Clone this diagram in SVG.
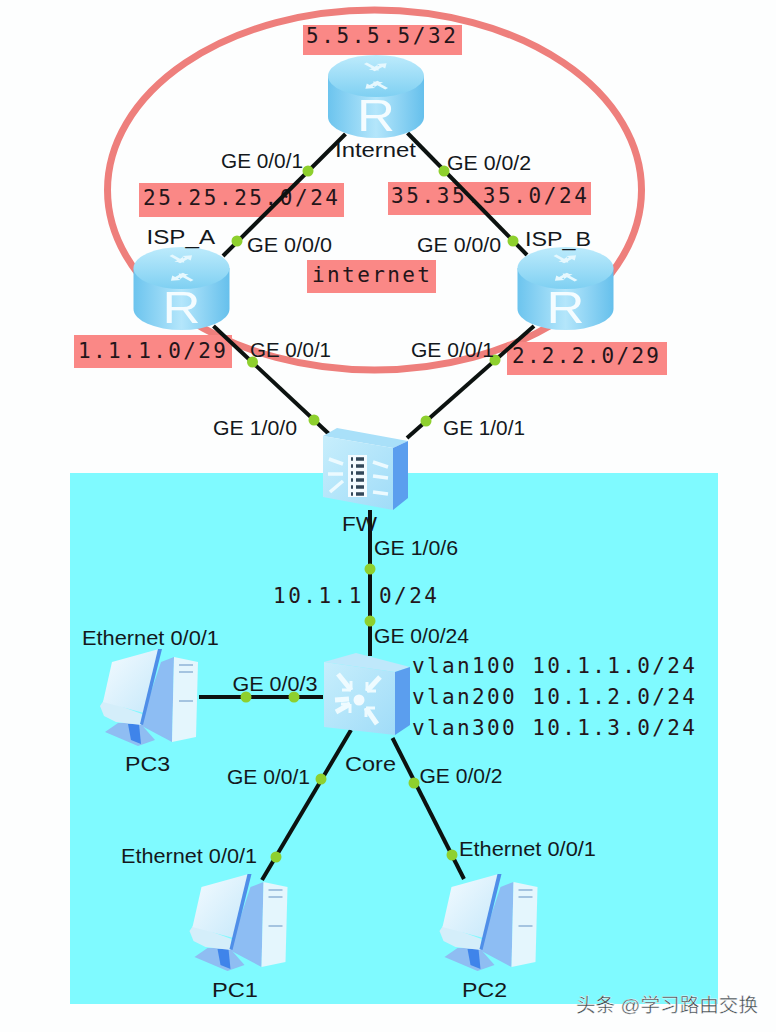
<svg xmlns="http://www.w3.org/2000/svg" xmlns:xlink="http://www.w3.org/1999/xlink" width="776" height="1032" viewBox="0 0 776 1032">
<style>
.sans{font-family:"Liberation Sans",Arial,sans-serif;font-size:20px;fill:#14181c}
.mono{font-family:"DejaVu Sans Mono","Liberation Mono",monospace;font-size:21px;fill:#24151a}
.box{fill:#fa8886}
.link{stroke:#0c1210;stroke-width:4;fill:none}
.dot{fill:#8ed02e}
</style>
<defs>
<linearGradient id="rSide" x1="0" x2="1" y1="0" y2="0"><stop offset="0" stop-color="#6cc4ee"/><stop offset=".5" stop-color="#b4e6fb"/><stop offset="1" stop-color="#66c0ec"/></linearGradient>
<linearGradient id="rTop" x1="0" x2="0" y1="0" y2="1"><stop offset="0" stop-color="#bdebfc"/><stop offset="1" stop-color="#7fd0f2"/></linearGradient>
<linearGradient id="front" x1="0" x2="1" y1="0" y2="1"><stop offset="0" stop-color="#c7eefc"/><stop offset="1" stop-color="#a0dcf8"/></linearGradient>
<linearGradient id="screen" x1="0" x2="1" y1="0" y2="1"><stop offset="0" stop-color="#f4fbff"/><stop offset="1" stop-color="#c6e8fa"/></linearGradient>
<path id="arr" d="M0,-2 L11,-2 L11,-6 L19,0 L11,6 L11,2 L0,2 Z" fill="#e6f8fe"/>
<g id="router">
<path d="M-48,21 V62 A48,21 0 0 0 48,62 V21 Z" fill="url(#rSide)"/>
<ellipse cx="0" cy="21" rx="48" ry="21" fill="url(#rTop)"/>
<g transform="translate(0,21) scale(1,.55)">
<use xlink:href="#arr" transform="rotate(-45) translate(5,-9)"/>
<use xlink:href="#arr" transform="rotate(135) translate(5,-9)"/>
<use xlink:href="#arr" transform="rotate(45) translate(24,9) rotate(180)"/>
<use xlink:href="#arr" transform="rotate(225) translate(24,9) rotate(180)"/>
</g>
<text x="-19" y="76" font-family="Liberation Sans,Arial,sans-serif" font-size="44" fill="#f4fcff" textLength="38" lengthAdjust="spacingAndGlyphs">R</text>
</g>
<g id="pc">
<polygon points="4,84 17,75 39,75 54,92 37,98" fill="#8fbdf2"/>
<polygon points="27,76 38,76 40,96 30,92" fill="#3f84ea"/>
<polygon points="60,14 73,9 71,94 39,77" fill="#8dbdf3"/>
<polygon points="73,9 97,14 95,89 71,94" fill="#e4f6fd"/>
<path d="M78,17 H92 M78,24 H92 M78,53 H92" stroke="#8fb4d6" stroke-width="1.5"/>
<polygon points="-1,58 3,52 41,66 40,77 15,74 3,68" fill="#d4eefa"/>
<polygon points="2,54 11,14 58,1 43,65" fill="url(#screen)"/>
<polygon points="57,1 61,1 42,77 39,76" fill="#4f8ee8"/>
</g>
</defs>

<rect width="776" height="1032" fill="#fdfefe"/>
<rect id="lan" x="70" y="473" width="648" height="531" fill="#7ffaff"/>
<ellipse id="internet-zone" cx="374.500" cy="190" rx="267" ry="180" fill="none" stroke="#ee7f7c" stroke-width="7"/>

<g id="subnet-labels">
<rect class="box" x="303" y="25" width="159" height="30"/>
<text class="mono" x="306" y="43" textLength="150">5.5.5.5/32</text>
<rect class="box" x="139" y="183" width="205" height="34"/>
<text class="mono" x="143" y="205" textLength="195">25.25.25.0/24</text>
<rect class="box" x="388" y="182" width="203" height="33"/>
<text class="mono" x="391" y="203" textLength="196">35.35.35.0/24</text>
<rect class="box" x="307" y="260" width="129" height="33"/>
<text class="mono" x="312" y="282" textLength="118">internet</text>
<rect class="box" x="74" y="335" width="158" height="33"/>
<text class="mono" x="78" y="358" textLength="148">1.1.1.0/29</text>
<rect class="box" x="507" y="342" width="160" height="33"/>
<text class="mono" x="512" y="363" textLength="147">2.2.2.0/29</text>
<text class="mono" x="273" y="603" textLength="164">10.1.1.0/24</text>
<text class="mono" x="412" y="673" textLength="283">vlan100 10.1.1.0/24</text>
<text class="mono" x="412" y="704" textLength="283">vlan200 10.1.2.0/24</text>
<text class="mono" x="412" y="735" textLength="283">vlan300 10.1.3.0/24</text>
</g>

<g id="connectors">
<line class="link" x1="345.500" y1="134" x2="223" y2="256"/>
<line class="link" x1="407.500" y1="133" x2="527" y2="255"/>
<line class="link" x1="213.500" y1="326" x2="329" y2="434"/>
<line class="link" x1="534" y1="326" x2="407" y2="438"/>
<line class="link" x1="370" y1="510" x2="370" y2="656"/>
<line class="link" x1="199" y1="697" x2="323" y2="697"/>
<line class="link" x1="351" y1="730" x2="262" y2="880"/>
<line class="link" x1="392.500" y1="738" x2="464" y2="879"/>
<g class="dot">
<circle cx="308" cy="171" r="5.500"/><circle cx="444" cy="171" r="5.500"/>
<circle cx="237" cy="241" r="5.500"/><circle cx="513" cy="241" r="5.500"/>
<circle cx="252.500" cy="362" r="5.500"/><circle cx="495" cy="360" r="5.500"/>
<circle cx="314" cy="420" r="5.500"/><circle cx="426" cy="421" r="5.500"/>
<circle cx="370" cy="569" r="5.500"/><circle cx="370" cy="621" r="5.500"/>
<circle cx="246" cy="697" r="5.500"/><circle cx="294" cy="697" r="5.500"/>
<circle cx="321" cy="779" r="5.500"/><circle cx="414" cy="783" r="5.500"/>
<circle cx="276" cy="857" r="5.500"/><circle cx="452" cy="855" r="5.500"/>
</g>
</g>

<g id="port-labels" class="sans">
<text class="sans" x="221" y="168" textLength="82" lengthAdjust="spacingAndGlyphs">GE 0/0/1</text>
<text class="sans" x="447" y="170" textLength="84" lengthAdjust="spacingAndGlyphs">GE 0/0/2</text>
<text class="sans" x="247" y="252" textLength="85" lengthAdjust="spacingAndGlyphs">GE 0/0/0</text>
<text class="sans" x="417" y="252" textLength="84" lengthAdjust="spacingAndGlyphs">GE 0/0/0</text>
<text class="sans" x="250" y="357" textLength="81" lengthAdjust="spacingAndGlyphs">GE 0/0/1</text>
<text class="sans" x="411" y="357" textLength="83" lengthAdjust="spacingAndGlyphs">GE 0/0/1</text>
<text class="sans" x="213" y="435" textLength="84" lengthAdjust="spacingAndGlyphs">GE 1/0/0</text>
<text class="sans" x="443" y="435" textLength="82" lengthAdjust="spacingAndGlyphs">GE 1/0/1</text>
<text class="sans" x="374" y="555" textLength="84" lengthAdjust="spacingAndGlyphs">GE 1/0/6</text>
<text class="sans" x="374" y="643" textLength="95" lengthAdjust="spacingAndGlyphs">GE 0/0/24</text>
<text class="sans" x="82" y="645" textLength="137" lengthAdjust="spacingAndGlyphs">Ethernet 0/0/1</text>
<text class="sans" x="232.500" y="691" textLength="85" lengthAdjust="spacingAndGlyphs">GE 0/0/3</text>
<text class="sans" x="227" y="784" textLength="83" lengthAdjust="spacingAndGlyphs">GE 0/0/1</text>
<text class="sans" x="419.500" y="783" textLength="83" lengthAdjust="spacingAndGlyphs">GE 0/0/2</text>
<text class="sans" x="121" y="863" textLength="136" lengthAdjust="spacingAndGlyphs">Ethernet 0/0/1</text>
<text class="sans" x="459" y="856" textLength="137" lengthAdjust="spacingAndGlyphs">Ethernet 0/0/1</text>
</g>

<g id="node-internet">
<use xlink:href="#router" transform="translate(376,55)"/>
<text class="sans" x="335" y="157" textLength="81" lengthAdjust="spacingAndGlyphs">Internet</text>
</g>
<g id="node-isp-a">
<use xlink:href="#router" transform="translate(181.500,247)"/>
<text class="sans" x="146.500" y="244" textLength="68.500" lengthAdjust="spacingAndGlyphs">ISP_A</text>
</g>
<g id="node-isp-b">
<use xlink:href="#router" transform="translate(565.500,247)"/>
<text class="sans" x="525" y="246" textLength="66" lengthAdjust="spacingAndGlyphs">ISP_B</text>
</g>

<g id="node-fw">
<polygon points="323,436 337,428 408,441 393,448" fill="#a9e0f9"/>
<polygon points="323,436 393,448 393,510 323,497" fill="url(#front)"/>
<polygon points="393,448 408,441 408,498 393,510" fill="#5b9eee"/>
<rect x="348" y="455" width="19" height="42" fill="#f4fbff"/>
<path d="M351,459 h2 M356,459 h8 M351,466 h2 M356,466 h8 M351,473 h2 M356,473 h8 M351,480 h2 M356,480 h8 M351,487 h2 M356,487 h8 M351,494 h2 M356,494 h8" stroke="#33485a" stroke-width="3.500"/>
<path d="M329,459 L343,464 M328,474 L343,474 M330,492 L343,481 M373,462 L388,467 M373,476 L388,478 M373,492 L388,494" stroke="#ecfaff" stroke-width="3.500" fill="none"/>
<text class="sans" x="342" y="531" textLength="35" lengthAdjust="spacingAndGlyphs">FW</text>
</g>

<g id="node-core">
<polygon points="324,662 356,653 410,667 395,672" fill="#bfe8fb"/>
<polygon points="324,662 395,672 395,735 324,727" fill="url(#front)"/>
<polygon points="395,672 410,667 410,725 395,735" fill="#5b9eee"/>
<circle cx="359" cy="700" r="5.500" fill="#f2fbff"/>
<path d="M338,674 L351,690 M380,677 L367,691 M336,712 L350,704 M377,724 L366,708 M335,700 L349,699" stroke="#eefbff" stroke-width="5" fill="none"/>
<path d="M351,690 v-9 M351,690 h-9 M367,691 v-9 M367,691 h9 M350,704 h-9 M350,704 v9 M366,708 h9 M366,708 v9" stroke="#eefbff" stroke-width="3" fill="none"/>
<text class="sans" x="345" y="771" textLength="51" lengthAdjust="spacingAndGlyphs">Core</text>
</g>

<g id="node-pc3">
<use xlink:href="#pc" transform="translate(101,648)"/>
<text class="sans" x="125" y="771" textLength="45" lengthAdjust="spacingAndGlyphs">PC3</text>
</g>
<g id="node-pc1">
<use xlink:href="#pc" transform="translate(190.500,873)"/>
<text class="sans" x="212" y="997" textLength="46" lengthAdjust="spacingAndGlyphs">PC1</text>
</g>
<g id="node-pc2">
<use xlink:href="#pc" transform="translate(440.500,873)"/>
<text class="sans" x="462" y="997" textLength="45" lengthAdjust="spacingAndGlyphs">PC2</text>
</g>

<text id="watermark" x="576" y="1012" font-family="Liberation Sans,Noto Sans CJK SC,sans-serif" font-size="19" fill="#3a4448" stroke="#ffffff" stroke-width=".4" textLength="182" lengthAdjust="spacingAndGlyphs">头条 @学习路由交换</text>
</svg>
